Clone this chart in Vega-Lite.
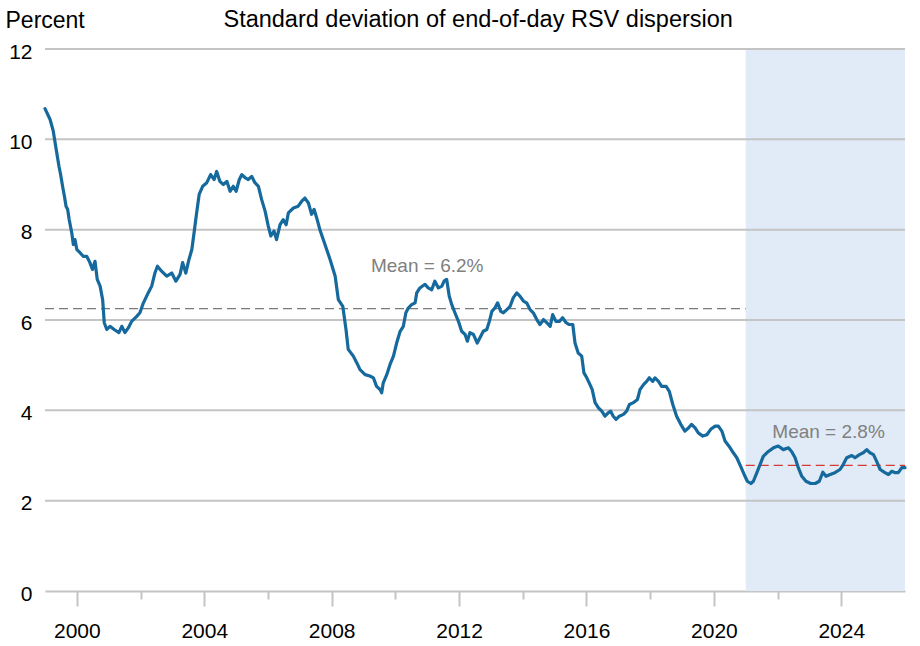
{
  "$schema": "https://vega.github.io/schema/vega-lite/v6.json",
  "width": 860,
  "height": 542,
  "autosize": {"type": "none"},
  "padding": {"left": 45, "top": 49, "right": 15, "bottom": 55},
  "background": "white",
  "config": {
    "view": {"stroke": null},
    "font": "Liberation Sans",
    "axis": {"labelFont": "Liberation Sans", "titleFont": "Liberation Sans"}
  },
  "datasets": {
    "series": [
      {"t": 1999.00, "v": 10.68}, {"t": 1999.16, "v": 10.44}, {"t": 1999.26, "v": 10.18}, {"t": 1999.31, "v": 9.96},
      {"t": 1999.37, "v": 9.70}, {"t": 1999.44, "v": 9.40}, {"t": 1999.49, "v": 9.22}, {"t": 1999.56, "v": 8.93},
      {"t": 1999.61, "v": 8.74}, {"t": 1999.66, "v": 8.52}, {"t": 1999.71, "v": 8.45}, {"t": 1999.76, "v": 8.22},
      {"t": 1999.84, "v": 7.93}, {"t": 1999.89, "v": 7.67}, {"t": 1999.94, "v": 7.78}, {"t": 2000.00, "v": 7.56},
      {"t": 2000.10, "v": 7.49}, {"t": 2000.20, "v": 7.41}, {"t": 2000.31, "v": 7.41}, {"t": 2000.41, "v": 7.27},
      {"t": 2000.49, "v": 7.12}, {"t": 2000.57, "v": 7.30}, {"t": 2000.64, "v": 6.90}, {"t": 2000.73, "v": 6.75},
      {"t": 2000.81, "v": 6.45}, {"t": 2000.86, "v": 5.94}, {"t": 2000.94, "v": 5.79}, {"t": 2001.04, "v": 5.86},
      {"t": 2001.17, "v": 5.79}, {"t": 2001.32, "v": 5.72}, {"t": 2001.41, "v": 5.86}, {"t": 2001.51, "v": 5.72},
      {"t": 2001.62, "v": 5.83}, {"t": 2001.72, "v": 5.97}, {"t": 2001.88, "v": 6.08}, {"t": 2001.98, "v": 6.16},
      {"t": 2002.09, "v": 6.38}, {"t": 2002.24, "v": 6.60}, {"t": 2002.35, "v": 6.75}, {"t": 2002.45, "v": 7.04},
      {"t": 2002.53, "v": 7.19}, {"t": 2002.66, "v": 7.08}, {"t": 2002.82, "v": 6.97}, {"t": 2002.98, "v": 7.04},
      {"t": 2003.11, "v": 6.86}, {"t": 2003.24, "v": 7.01}, {"t": 2003.32, "v": 7.27}, {"t": 2003.42, "v": 7.04},
      {"t": 2003.52, "v": 7.34}, {"t": 2003.61, "v": 7.56}, {"t": 2003.68, "v": 7.93}, {"t": 2003.76, "v": 8.37},
      {"t": 2003.84, "v": 8.78}, {"t": 2003.95, "v": 8.96}, {"t": 2004.08, "v": 9.04}, {"t": 2004.20, "v": 9.22},
      {"t": 2004.31, "v": 9.11}, {"t": 2004.39, "v": 9.29}, {"t": 2004.49, "v": 9.07}, {"t": 2004.60, "v": 9.00},
      {"t": 2004.71, "v": 9.07}, {"t": 2004.81, "v": 8.85}, {"t": 2004.91, "v": 8.96}, {"t": 2005.00, "v": 8.85},
      {"t": 2005.10, "v": 9.11}, {"t": 2005.18, "v": 9.22}, {"t": 2005.28, "v": 9.15}, {"t": 2005.38, "v": 9.11},
      {"t": 2005.49, "v": 9.18}, {"t": 2005.59, "v": 9.04}, {"t": 2005.70, "v": 8.96}, {"t": 2005.80, "v": 8.67},
      {"t": 2005.91, "v": 8.41}, {"t": 2006.01, "v": 8.08}, {"t": 2006.09, "v": 7.86}, {"t": 2006.19, "v": 7.97},
      {"t": 2006.27, "v": 7.78}, {"t": 2006.38, "v": 8.11}, {"t": 2006.48, "v": 8.22}, {"t": 2006.57, "v": 8.11},
      {"t": 2006.64, "v": 8.37}, {"t": 2006.80, "v": 8.48}, {"t": 2006.95, "v": 8.52}, {"t": 2007.06, "v": 8.63},
      {"t": 2007.16, "v": 8.70}, {"t": 2007.27, "v": 8.59}, {"t": 2007.37, "v": 8.34}, {"t": 2007.45, "v": 8.45},
      {"t": 2007.53, "v": 8.26}, {"t": 2007.63, "v": 8.00}, {"t": 2007.79, "v": 7.67}, {"t": 2007.95, "v": 7.34},
      {"t": 2008.11, "v": 6.97}, {"t": 2008.21, "v": 6.45}, {"t": 2008.35, "v": 6.30}, {"t": 2008.45, "v": 5.79},
      {"t": 2008.52, "v": 5.35}, {"t": 2008.68, "v": 5.20}, {"t": 2008.79, "v": 5.05}, {"t": 2008.89, "v": 4.90},
      {"t": 2009.05, "v": 4.79}, {"t": 2009.20, "v": 4.76}, {"t": 2009.31, "v": 4.72}, {"t": 2009.41, "v": 4.53},
      {"t": 2009.52, "v": 4.46}, {"t": 2009.57, "v": 4.39}, {"t": 2009.62, "v": 4.61}, {"t": 2009.73, "v": 4.79},
      {"t": 2009.83, "v": 5.01}, {"t": 2009.94, "v": 5.20}, {"t": 2010.04, "v": 5.49}, {"t": 2010.15, "v": 5.75},
      {"t": 2010.25, "v": 5.86}, {"t": 2010.33, "v": 6.16}, {"t": 2010.41, "v": 6.27}, {"t": 2010.51, "v": 6.34},
      {"t": 2010.62, "v": 6.38}, {"t": 2010.67, "v": 6.60}, {"t": 2010.77, "v": 6.71}, {"t": 2010.93, "v": 6.79},
      {"t": 2011.03, "v": 6.71}, {"t": 2011.14, "v": 6.67}, {"t": 2011.24, "v": 6.86}, {"t": 2011.35, "v": 6.71},
      {"t": 2011.46, "v": 6.75}, {"t": 2011.53, "v": 6.86}, {"t": 2011.61, "v": 6.90}, {"t": 2011.69, "v": 6.53},
      {"t": 2011.77, "v": 6.34}, {"t": 2011.87, "v": 6.16}, {"t": 2011.98, "v": 5.97}, {"t": 2012.08, "v": 5.75},
      {"t": 2012.19, "v": 5.68}, {"t": 2012.26, "v": 5.53}, {"t": 2012.34, "v": 5.72}, {"t": 2012.45, "v": 5.68},
      {"t": 2012.57, "v": 5.49}, {"t": 2012.68, "v": 5.64}, {"t": 2012.76, "v": 5.75}, {"t": 2012.87, "v": 5.79},
      {"t": 2012.95, "v": 5.97}, {"t": 2013.03, "v": 6.19}, {"t": 2013.13, "v": 6.27}, {"t": 2013.21, "v": 6.38},
      {"t": 2013.31, "v": 6.19}, {"t": 2013.39, "v": 6.16}, {"t": 2013.50, "v": 6.23}, {"t": 2013.60, "v": 6.30},
      {"t": 2013.70, "v": 6.49}, {"t": 2013.81, "v": 6.60}, {"t": 2013.91, "v": 6.53}, {"t": 2014.02, "v": 6.42},
      {"t": 2014.12, "v": 6.38}, {"t": 2014.23, "v": 6.23}, {"t": 2014.33, "v": 6.16}, {"t": 2014.44, "v": 6.01},
      {"t": 2014.54, "v": 5.90}, {"t": 2014.65, "v": 6.01}, {"t": 2014.75, "v": 5.94}, {"t": 2014.86, "v": 5.86},
      {"t": 2014.94, "v": 6.12}, {"t": 2015.04, "v": 5.97}, {"t": 2015.15, "v": 5.97}, {"t": 2015.25, "v": 6.05},
      {"t": 2015.36, "v": 5.94}, {"t": 2015.46, "v": 5.90}, {"t": 2015.57, "v": 5.90}, {"t": 2015.64, "v": 5.49},
      {"t": 2015.74, "v": 5.27}, {"t": 2015.85, "v": 5.20}, {"t": 2015.92, "v": 4.83}, {"t": 2016.01, "v": 4.72},
      {"t": 2016.11, "v": 4.57}, {"t": 2016.18, "v": 4.46}, {"t": 2016.27, "v": 4.17}, {"t": 2016.37, "v": 4.06},
      {"t": 2016.48, "v": 3.98}, {"t": 2016.58, "v": 3.87}, {"t": 2016.69, "v": 3.95}, {"t": 2016.76, "v": 3.98},
      {"t": 2016.84, "v": 3.87}, {"t": 2016.93, "v": 3.80}, {"t": 2017.03, "v": 3.87}, {"t": 2017.16, "v": 3.91},
      {"t": 2017.26, "v": 3.98}, {"t": 2017.35, "v": 4.13}, {"t": 2017.47, "v": 4.17}, {"t": 2017.60, "v": 4.24},
      {"t": 2017.68, "v": 4.46}, {"t": 2017.79, "v": 4.57}, {"t": 2017.89, "v": 4.64}, {"t": 2017.97, "v": 4.72},
      {"t": 2018.08, "v": 4.64}, {"t": 2018.15, "v": 4.72}, {"t": 2018.26, "v": 4.64}, {"t": 2018.36, "v": 4.53},
      {"t": 2018.50, "v": 4.53}, {"t": 2018.60, "v": 4.42}, {"t": 2018.71, "v": 4.13}, {"t": 2018.83, "v": 3.87},
      {"t": 2018.96, "v": 3.69}, {"t": 2019.09, "v": 3.54}, {"t": 2019.20, "v": 3.61}, {"t": 2019.30, "v": 3.69},
      {"t": 2019.41, "v": 3.61}, {"t": 2019.51, "v": 3.50}, {"t": 2019.65, "v": 3.43}, {"t": 2019.78, "v": 3.46},
      {"t": 2019.90, "v": 3.58}, {"t": 2020.04, "v": 3.65}, {"t": 2020.14, "v": 3.65}, {"t": 2020.25, "v": 3.54},
      {"t": 2020.35, "v": 3.32}, {"t": 2020.51, "v": 3.17}, {"t": 2020.61, "v": 3.06}, {"t": 2020.72, "v": 2.95},
      {"t": 2020.84, "v": 2.76}, {"t": 2020.95, "v": 2.58}, {"t": 2021.05, "v": 2.43}, {"t": 2021.16, "v": 2.38},
      {"t": 2021.24, "v": 2.43}, {"t": 2021.35, "v": 2.62}, {"t": 2021.45, "v": 2.80}, {"t": 2021.55, "v": 2.98},
      {"t": 2021.71, "v": 3.09}, {"t": 2021.87, "v": 3.17}, {"t": 2022.02, "v": 3.21}, {"t": 2022.18, "v": 3.13},
      {"t": 2022.34, "v": 3.17}, {"t": 2022.44, "v": 3.09}, {"t": 2022.55, "v": 2.95}, {"t": 2022.65, "v": 2.73},
      {"t": 2022.76, "v": 2.54}, {"t": 2022.89, "v": 2.43}, {"t": 2023.04, "v": 2.38}, {"t": 2023.18, "v": 2.38},
      {"t": 2023.31, "v": 2.43}, {"t": 2023.42, "v": 2.63}, {"t": 2023.52, "v": 2.54}, {"t": 2023.65, "v": 2.58},
      {"t": 2023.80, "v": 2.62}, {"t": 2023.96, "v": 2.69}, {"t": 2024.06, "v": 2.80}, {"t": 2024.17, "v": 2.95},
      {"t": 2024.33, "v": 3.00}, {"t": 2024.43, "v": 2.95}, {"t": 2024.57, "v": 3.02}, {"t": 2024.69, "v": 3.06},
      {"t": 2024.80, "v": 3.13}, {"t": 2024.90, "v": 3.06}, {"t": 2025.01, "v": 3.02}, {"t": 2025.11, "v": 2.87},
      {"t": 2025.22, "v": 2.69}, {"t": 2025.37, "v": 2.62}, {"t": 2025.48, "v": 2.58}, {"t": 2025.59, "v": 2.65},
      {"t": 2025.69, "v": 2.62}, {"t": 2025.79, "v": 2.62}, {"t": 2025.90, "v": 2.73}, {"t": 2026.00, "v": 2.73}
    ]
  },
  "layer": [
    {
      "data": {"values": [{"start": 2021, "end": 2026}]},
      "mark": {"type": "rect", "color": "#e0ebf7"},
      "encoding": {
        "x": {"field": "start", "type": "quantitative"},
        "x2": {"field": "end"}
      }
    },
    {
      "data": {"values": [{"g": 2}, {"g": 4}, {"g": 6}, {"g": 8}, {"g": 10}, {"g": 12}]},
      "mark": {"type": "rule", "color": "#c4c4c4", "strokeWidth": 2},
      "encoding": {
        "y": {"field": "g", "type": "quantitative"}
      }
    },
    {
      "data": {"values": [{"a": 1999, "b": 2021, "m": 6.25}]},
      "mark": {"type": "rule", "color": "#5a5a5a", "strokeWidth": 1, "strokeDash": [9, 5]},
      "encoding": {
        "x": {"field": "a", "type": "quantitative"},
        "x2": {"field": "b"},
        "y": {"field": "m", "type": "quantitative"}
      }
    },
    {
      "data": {"values": [{"a": 2021, "b": 2026, "m": 2.78}]},
      "mark": {"type": "rule", "color": "#d63a34", "strokeWidth": 1.2, "strokeDash": [9, 5]},
      "encoding": {
        "x": {"field": "a", "type": "quantitative"},
        "x2": {"field": "b"},
        "y": {"field": "m", "type": "quantitative"}
      }
    },
    {
      "data": {"name": "series"},
      "mark": {"type": "line", "color": "#16699c", "strokeWidth": 3.2, "strokeJoin": "round", "strokeCap": "round"},
      "encoding": {
        "x": {
          "field": "t",
          "type": "quantitative",
          "scale": {"domain": [1999, 2026], "nice": false, "zero": false},
          "axis": {
            "title": null,
            "values": [2000, 2002, 2004, 2006, 2008, 2010, 2012, 2014, 2016, 2018, 2020, 2022, 2024],
            "labelExpr": "datum.value % 4 === 0 ? datum.value : ''",
            "format": "d",
            "grid": false,
            "domainColor": "#c4c4c4",
            "domainWidth": 2,
            "tickColor": "#c4c4c4",
            "tickWidth": 2,
            "tickSize": {"condition": {"test": "datum.value % 4 === 0", "value": 15}, "value": 8},
            "labelFontSize": 21,
            "labelColor": "#000000",
            "labelPadding": 14,
            "labelFlush": false,
            "labelOverlap": false
          }
        },
        "y": {
          "field": "v",
          "type": "quantitative",
          "scale": {"domain": [0, 12], "nice": false},
          "axis": {
            "title": "Percent",
            "titleAngle": 0,
            "titleX": -40,
            "titleY": -22,
            "titleAlign": "left",
            "titleBaseline": "alphabetic",
            "titleFontSize": 23,
            "titleFontWeight": "normal",
            "titleColor": "#000000",
            "values": [0, 2, 4, 6, 8, 10, 12],
            "grid": false,
            "domain": false,
            "ticks": false,
            "labelFontSize": 21,
            "labelColor": "#000000",
            "labelPadding": 13,
            "labelOffset": 3,
            "labelBaseline": "middle"
          }
        }
      }
    },
    {
      "data": {"values": [{"x": 2011.0, "y": 7.2, "label": "Mean = 6.2%"}, {"x": 2023.6, "y": 3.52, "label": "Mean = 2.8%"}]},
      "mark": {"type": "text", "fontSize": 19, "color": "#808080", "align": "center", "baseline": "middle", "font": "Liberation Sans"},
      "encoding": {
        "x": {"field": "x", "type": "quantitative"},
        "y": {"field": "y", "type": "quantitative"},
        "text": {"field": "label"}
      }
    },
    {
      "data": {"values": [{"x": 2012.6, "y": 12.49, "label": "Standard deviation of end-of-day RSV dispersion"}]},
      "mark": {"type": "text", "fontSize": 23.5, "color": "#000000", "align": "center", "baseline": "alphabetic", "font": "Liberation Sans", "clip": false},
      "encoding": {
        "x": {"field": "x", "type": "quantitative"},
        "y": {"field": "y", "type": "quantitative"},
        "text": {"field": "label"}
      }
    }
  ]
}
